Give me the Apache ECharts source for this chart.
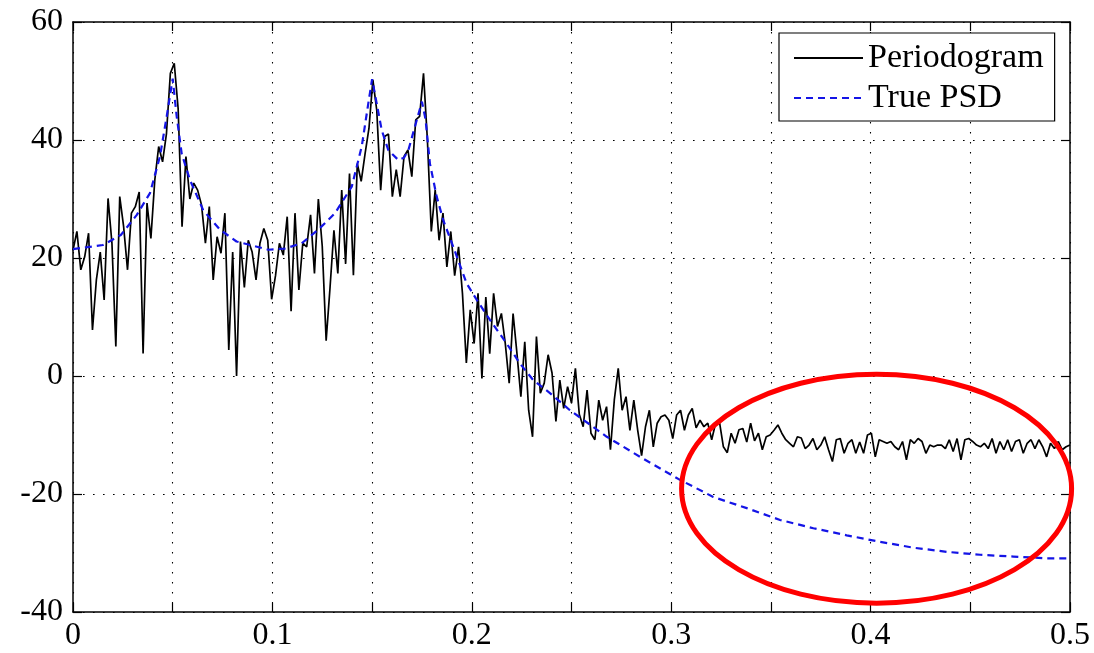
<!DOCTYPE html>
<html>
<head>
<meta charset="utf-8">
<script src="https://cdn.jsdelivr.net/npm/echarts@6/dist/echarts.min.js"></script>
<style>
  html, body { margin: 0; padding: 0; background: #fff; }
  #chart { width: 1094px; height: 653px; }
</style>
</head>
<body>
<div id="chart"></div>
<script>
// Periodogram estimate (dB), one value per frequency bin, bins spaced 1/512 from 0 to 0.5
const periodogram = [
  21.3, 24.5, 18, 20.2, 24.2, 7.8, 16.3, 21, 12.9, 30.1,
  22.5, 5, 30.4, 25.3, 18, 27.6, 28.7, 31.2, 3.8, 29.3,
  23.3, 33.2, 38.9, 36.3, 41.1, 51.3, 53, 45.3, 25.3, 37.2,
  30, 32.7, 31.5, 29, 22.5, 28.7, 16.3, 23.6, 20.8, 27.6,
  4.4, 21, 0, 22.8, 15, 23, 21, 16.3, 22.5, 25,
  23, 13, 17, 22.5, 20.5, 27, 11, 27.6, 14.6, 22.5,
  21.9, 27.3, 17.4, 30, 22, 6, 15, 24.7, 17.4, 31.5,
  19, 34.3, 17.1, 36, 33, 37.7, 42, 50.2, 45, 31.5,
  40.6, 41, 30.4, 35, 30.4, 37.2, 38.3, 33.8, 43.4, 44,
  51.3, 40, 24.5, 31.5, 23, 27.6, 18.5, 24.5, 17, 21.9,
  14, 2.2, 11.2, 5.5, 14, -0.4, 13.4, 3.8, 14, 8.4,
  10.6, 5.5, -1.2, 10.6, 3.8, -3.5, 5.8, -5.8, -10.3, 6.7,
  -2.9, -1.2, 3.6, 0.5, -7.7, -0.7, -5.5, -1.8, -4.6, 1.3,
  -6.5, -8.6, -2.4, -9.7, -10.8, -4.1, -7.5, -5.2, -12.5, -4,
  1.3, -5.8, -3.5, -9.2, -4.1, -9.2, -13.5, -8.6, -5.8, -12,
  -8, -6.9, -6.6, -7.5, -10.6, -6.6, -5.8, -9.2, -6.6, -5.5,
  -8.8, -7.5, -8.6, -8, -10.8, -8, -7.8, -12, -13, -9.7,
  -11.4, -9.1, -8.9, -11.2, -8, -11, -9.7, -12.5, -10.3, -10,
  -9.2, -8.3, -9.7, -10.8, -11.4, -12, -10.3, -10.5, -12.3, -11.7,
  -10.6, -12.5, -11.7, -10.3, -12.5, -14.5, -10.8, -10.6, -13.1, -11.4,
  -10.8, -13.1, -11.2, -13.1, -10, -9.7, -13.7, -10.8, -11.1, -11.4,
  -11.1, -12, -12.5, -11.1, -14.2, -10.8, -11.4, -10.6, -11.1, -13.1,
  -11.7, -12, -11.7, -11.7, -12.3, -10.8, -12.8, -10.6, -14.2, -10.8,
  -10.6, -11.1, -11.7, -12, -11.4, -12.3, -10.6, -13.1, -11.1, -12.5,
  -10.8, -12.8, -11.1, -10.8, -13.1, -11.4, -10.8, -12.3, -10.8, -12,
  -13.7, -11.4, -12.3, -11.1, -12.5, -12, -11.7
];
const FREQ_STEP = 1 / 512;

// True power spectral density (dB) at selected frequencies
const psdFreq = [
  0, 0.015, 0.024, 0.032, 0.0386, 0.0436, 0.047, 0.05, 0.052, 0.0545,
  0.0587, 0.0653, 0.0737, 0.082, 0.098, 0.1063, 0.1147, 0.123, 0.1314, 0.1398,
  0.1448, 0.1481, 0.15, 0.1523, 0.1548, 0.1581, 0.1632, 0.166, 0.1682, 0.1715,
  0.175, 0.1768, 0.179, 0.1824, 0.1857, 0.1907, 0.1974, 0.2025, 0.2091, 0.2175,
  0.2242, 0.2308, 0.2392, 0.2492, 0.2677, 0.2844, 0.3044, 0.3211, 0.3379, 0.3546,
  0.3713, 0.388, 0.4047, 0.4214, 0.4382, 0.4549, 0.4716, 0.4883, 0.5
];
const psdValue = [
  21.5, 22.2, 23.9, 27.3, 31, 37.2, 44, 50.4, 44, 37.7,
  33.2, 28.1, 24.8, 22.8, 21.4, 21.6, 22.5, 24.8, 27.6, 32.1,
  38.9, 46.2, 50.3, 46.2, 41.7, 38.3, 36.6, 37, 38.3, 42.3,
  46.5, 43.5, 36, 30.4, 26.4, 21.9, 15.7, 12.9, 9.5, 5.5,
  2.1, -0.7, -2.9, -5.8, -10.3, -13.7, -17.6, -20.5, -22.4, -24.4,
  -25.8, -27, -28.1, -29.1, -29.8, -30.3, -30.6, -30.9, -30.9
];

const seriesNames = ['Periodogram', 'True PSD'];
const xTickLabels = ['0', '0.1', '0.2', '0.3', '0.4', '0.5'];
const yTickLabels = ['-40', '-20', '0', '20', '40', '60'];

// Highlighted region: centre and half-extents in data units
const ellipseCenter = [0.403, -19.1];
const ellipseRadius = [0.0978, 19.4];

const periodogramData = periodogram.map((v, i) => [i * FREQ_STEP, v]);
const psdData = psdFreq.map((f, i) => [f, psdValue[i]]);

const FONT = 'Liberation Serif';
const frameLine = { show: true, onZero: false, lineStyle: { color: '#000', width: 1.5 } };
const innerTick = { show: true, inside: true, length: 9, lineStyle: { color: '#000', width: 1.2 } };
const dotted = { show: true, lineStyle: { color: '#000', width: 1.1, type: [1.6, 8.4] } };

function xLabel(v) {
  const k = Math.round(v * 10);
  return Math.abs(v * 10 - k) < 1e-6 ? xTickLabels[k] : '';
}
function yLabel(v) {
  return yTickLabels[Math.round((v + 40) / 20)];
}

const chart = echarts.init(document.getElementById('chart'), null, { renderer: 'canvas' });

const option = {
  animation: false,
  backgroundColor: '#fff',
  grid: { left: 73, right: 24, top: 22, bottom: 41, containLabel: false },
  legend: {
    orient: 'vertical',
    left: 779,
    top: 33,
    padding: [8, 11, 6, 14],
    itemGap: 6,
    itemWidth: 69,
    itemHeight: 14,
    backgroundColor: '#fff',
    borderColor: '#000',
    borderWidth: 1.2,
    itemStyle: { opacity: 0 },
    textStyle: { fontFamily: FONT, fontSize: 34, color: '#000' },
    data: seriesNames
  },
  xAxis: [
    {
      type: 'value', position: 'bottom', min: 0, max: 0.5, interval: 0.05,
      axisLine: frameLine, axisTick: innerTick,
      axisLabel: { formatter: xLabel, fontFamily: FONT, fontSize: 32, color: '#000', margin: 8 },
      splitLine: dotted
    },
    {
      type: 'value', position: 'top', min: 0, max: 0.5, interval: 0.05,
      axisLine: frameLine, axisTick: innerTick,
      axisLabel: { show: false }, splitLine: { show: false }
    }
  ],
  yAxis: [
    {
      type: 'value', position: 'left', min: -40, max: 60, interval: 20,
      axisLine: frameLine, axisTick: innerTick,
      axisLabel: { formatter: yLabel, fontFamily: FONT, fontSize: 32, color: '#000', margin: 10 },
      splitLine: dotted
    },
    {
      type: 'value', position: 'right', min: -40, max: 60, interval: 20,
      axisLine: frameLine, axisTick: innerTick,
      axisLabel: { show: false }, splitLine: { show: false }
    }
  ],
  series: [
    {
      name: seriesNames[0], type: 'line', xAxisIndex: 0, yAxisIndex: 0,
      data: periodogramData, showSymbol: false, symbol: 'none',
      lineStyle: { color: '#000', width: 1.7 }, itemStyle: { color: '#000' },
      z: 3
    },
    {
      name: seriesNames[1], type: 'line', xAxisIndex: 0, yAxisIndex: 0,
      data: psdData, showSymbol: false, symbol: 'none',
      lineStyle: { color: '#1414e6', width: 2.2, type: [7, 5] }, itemStyle: { color: '#1414e6' },
      z: 4
    }
  ]
};

chart.setOption(option);

// Red ellipse outlining the high-frequency region, placed through the axis scales
const c = chart.convertToPixel({ gridIndex: 0 }, ellipseCenter);
const ex = chart.convertToPixel({ gridIndex: 0 }, [ellipseCenter[0] + ellipseRadius[0], ellipseCenter[1]]);
const ey = chart.convertToPixel({ gridIndex: 0 }, [ellipseCenter[0], ellipseCenter[1] + ellipseRadius[1]]);
chart.setOption({
  graphic: [{
    type: 'ellipse',
    z: 100,
    shape: { cx: c[0], cy: c[1], rx: Math.abs(ex[0] - c[0]), ry: Math.abs(c[1] - ey[1]) },
    style: { fill: 'none', stroke: '#f00', lineWidth: 5 }
  }]
});
</script>
</body>
</html>
